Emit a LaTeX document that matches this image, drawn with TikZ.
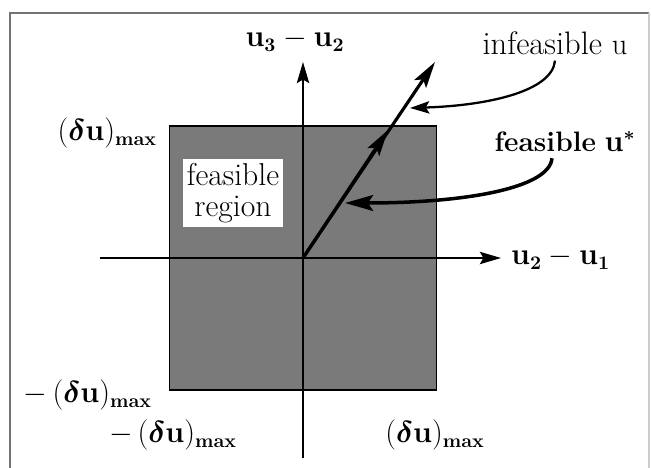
\documentclass[tikz,border=0pt]{standalone}
\usepackage{amsmath,amssymb}
\usetikzlibrary{arrows.meta, positioning}

\begin{document}
\begin{tikzpicture}[
    axisline/.style={-{Stealth[length=12pt, width=7pt, inset=2pt]}, line width=1.1pt},
    vec/.style={-{Stealth[length=15pt, width=8pt, inset=3pt]}, line width=1.8pt},
    thin pointer/.style={-{Stealth[length=11pt, width=7pt, inset=2pt]}, line width=1.3pt},
    thick pointer/.style={-{Stealth[length=16pt, width=9pt, inset=3pt]}, line width=2pt},
    lbl/.style={font=\fontsize{16}{19}\selectfont, inner sep=1pt},
    region/.style={draw, line width=1pt, fill=black!52},
    note/.style={fill=white, align=center, inner sep=2pt, font=\fontsize{18}{18}\selectfont}
]
    \useasboundingbox (-6.06,-4.2) rectangle (6.96,5.16);
    % frame
    \draw[black!55, line width=0.8pt] (-5.86,-4.2) -- (-5.86,4.9) -- (6.92,4.9);
    \draw[black!20, line width=0.6pt] (6.92,4.9) -- (6.92,-4.2);

    % feasible square
    \node[region, minimum width=5.34cm, minimum height=5.28cm] (sq) at (0,0) {};
    \node[note] (reg) at (-1.4,1.3) {feasible\\region};

    % axes
    \coordinate (O) at (0,0);
    \coordinate (xl) at (-4.06,0);
    \coordinate (xr) at (3.96,0);
    \coordinate (yb) at (0,-4.0);
    \coordinate (yt) at (0,3.92);
    \draw[axisline] (xl) -- (xr);
    \draw[axisline] (yb) -- (yt);
    \node[lbl, anchor=west] (xlab) at (4.12,0) {$\mathbf{u}_{\mathbf{2}} - \mathbf{u}_{\mathbf{1}}$};
    \node[lbl] (ylab) at (-0.16,4.36) {$\mathbf{u}_{\mathbf{3}} - \mathbf{u}_{\mathbf{2}}$};

    % bounds
    \node[lbl, anchor=east] (ymax) at (-2.88,2.5) {$(\boldsymbol{\delta}\mathbf{u})_{\mathbf{max}}$};
    \node[lbl, anchor=east] (ymin) at (-2.98,-2.74) {$-\,(\boldsymbol{\delta}\mathbf{u})_{\mathbf{max}}$};
    \node[lbl] (xmin) at (-2.6,-3.54) {$-\,(\boldsymbol{\delta}\mathbf{u})_{\mathbf{max}}$};
    \node[lbl] (xmax) at (2.64,-3.54) {$(\boldsymbol{\delta}\mathbf{u})_{\mathbf{max}}$};

    % control vectors
    \coordinate (fz) at (1.7,2.56);
    \coordinate (inf) at (2.64,3.92);
    \draw[vec] (O) -- (inf);
    \draw[vec] (O) -- (fz);

    % pointers
    \node[lbl, font=\fontsize{18.5}{20}\selectfont] (infl) at (5.04,4.3) {infeasible $\mathrm{u}$};
    \node[lbl] (fzl) at (5.24,2.32) {\textbf{feasible} $\mathbf{u}^{\boldsymbol{*}}$};
    \coordinate (pi) at (2.14,3.0);
    \coordinate (pf) at (0.84,1.1);
    \draw[thin pointer] (infl.south) ++(0,-0.08) .. controls +(-0.05,-0.6) and +(1.6,0.05) .. (pi);
    \draw[thick pointer] (fzl.south) ++(-0.26,-0.08) .. controls +(-0.05,-0.6) and +(2.4,0) .. (pf);
\end{tikzpicture}
\end{document}
